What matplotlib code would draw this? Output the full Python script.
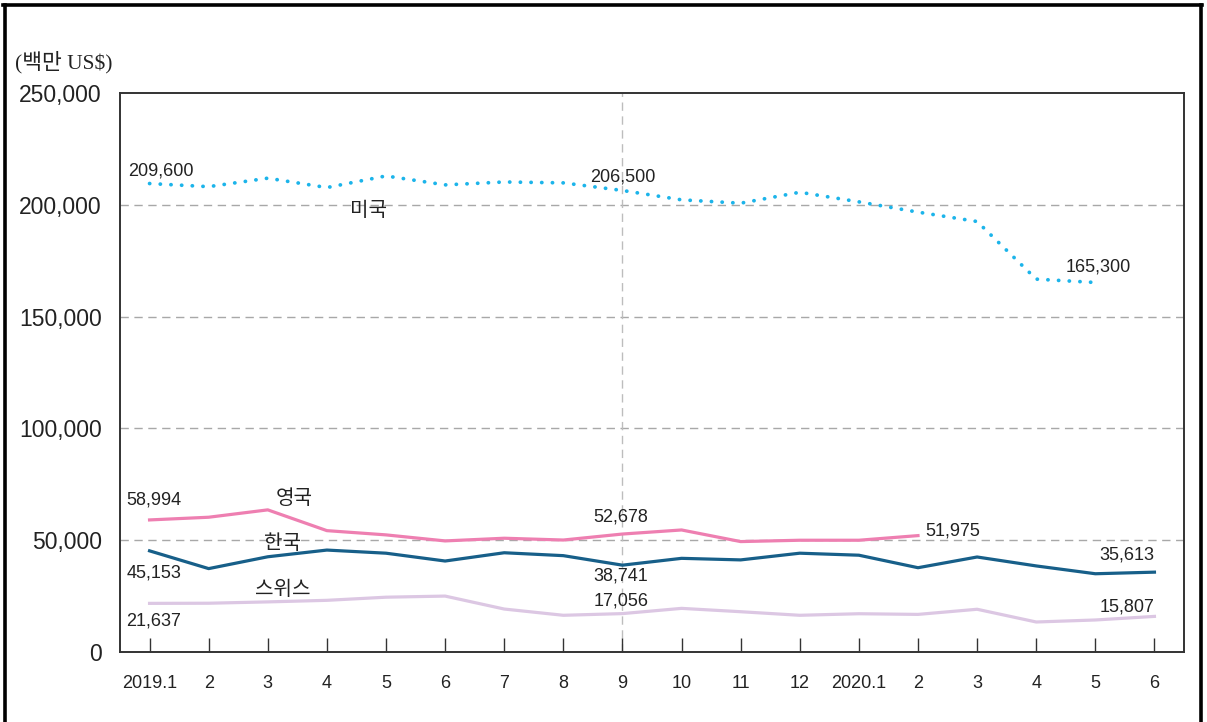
import matplotlib
matplotlib.use("Agg")
import matplotlib.pyplot as plt
from matplotlib.lines import Line2D
from matplotlib import font_manager

# monthly values, million US$
months = ["2019.1", "2", "3", "4", "5", "6", "7", "8", "9", "10", "11", "12",
          "2020.1", "2", "3", "4", "5", "6"]
usa = [209600, 208200, 212000, 207800, 213000, 209000, 210300, 209900, 206500,
       202300, 200800, 205700, 201400, 196800, 192600, 166800, 165300]
uk = [58994, 60200, 63500, 54200, 52300, 49600, 50800, 50000, 52678,
      54500, 49300, 49900, 49900, 51975]
korea = [45153, 37200, 42500, 45500, 44100, 40600, 44300, 43000, 38741,
         41800, 41100, 44100, 43200, 37600, 42400, 38400, 34900, 35613]
swiss = [21637, 21700, 22300, 23000, 24400, 24900, 19100, 16300, 17056,
         19400, 17900, 16300, 17000, 16700, 19000, 13300, 14200, 15807]
yticks = [0, 50000, 100000, 150000, 200000, 250000]

NUM_FONT = "Liberation Sans"
KR_FONT = ["Noto Sans CJK KR", "DejaVu Sans"]
names = {f.name for f in font_manager.fontManager.ttflist}
NARROW = "Liberation Sans Narrow" if "Liberation Sans Narrow" in names else NUM_FONT

C_US = "#1cb4ea"
C_UK = "#ee7fb1"
C_KR = "#175f89"
C_CH = "#dcc7e3"
TXT = "#222222"

W, H = 1207, 722
fig = plt.figure(figsize=(W / 100, H / 100), dpi=100)
ax = fig.add_axes([120 / W, (H - 651.7) / H, (1184 - 120) / W, (651.7 - 93.3) / H])

x = list(range(len(months)))
ax.plot(x[:len(swiss)], swiss, color=C_CH, lw=2.3, zorder=3)
ax.plot(x[:len(korea)], korea, color=C_KR, lw=2.3, zorder=4)
ax.plot(x[:len(uk)], uk, color=C_UK, lw=2.3, zorder=4)
ax.plot(x[:len(usa)], usa, color=C_US, lw=2.7, linestyle=(0, (0.05, 2.8)),
        dash_capstyle="round", zorder=4)

ax.set_xlim(-0.5, len(months) - 0.5)
ax.set_ylim(0, 250000)

for v in yticks[1:-1]:
    ax.axhline(v, color="#a8a8a8", lw=1.0, dashes=(6, 4), zorder=1)
ax.axvline(8, color="#bdbdbd", lw=1.0, dashes=(6, 4), zorder=1)

ax.set_yticks(yticks)
ax.set_yticklabels([f"{v:,}" for v in yticks], fontfamily=NUM_FONT,
                   fontsize=16.5, color=TXT)
ax.tick_params(axis="y", length=0, pad=13)
ax.set_xticks(x)
ax.set_xticklabels(months, fontfamily=NARROW, fontsize=13, color=TXT)
ax.tick_params(axis="x", direction="in", length=10, width=1.0, color="#333333", pad=17)
for s in ax.spines.values():
    s.set_color("#333333")
    s.set_linewidth(1.4)

# value labels
lab = dict(fontfamily=NUM_FONT, fontsize=13, color=TXT, ha="center", va="center")
ax.annotate(f"{usa[0]:,}", (0, usa[0]), xytext=(8, 9), textcoords="offset points", **lab)
ax.annotate(f"{usa[8]:,}", (8, usa[8]), xytext=(0, 10), textcoords="offset points", **lab)
ax.annotate(f"{usa[16]:,}", (16, usa[16]), xytext=(2, 11), textcoords="offset points", **lab)
ax.annotate(f"{uk[0]:,}", (0, uk[0]), xytext=(3, 14), textcoords="offset points", **lab)
ax.annotate(f"{uk[8]:,}", (8, uk[8]), xytext=(-1, 12), textcoords="offset points", **lab)
ax.annotate(f"{uk[13]:,}", (13, uk[13]), xytext=(25, 3), textcoords="offset points", **lab)
ax.annotate(f"{korea[0]:,}", (0, korea[0]), xytext=(3, -16), textcoords="offset points", **lab)
ax.annotate(f"{korea[8]:,}", (8, korea[8]), xytext=(-1, -8), textcoords="offset points", **lab)
ax.annotate(f"{korea[17]:,}", (17, korea[17]), xytext=(-20, 12), textcoords="offset points", **lab)
ax.annotate(f"{swiss[0]:,}", (0, swiss[0]), xytext=(3, -13), textcoords="offset points", **lab)
ax.annotate(f"{swiss[8]:,}", (8, swiss[8]), xytext=(-1, 9), textcoords="offset points", **lab)
ax.annotate(f"{swiss[17]:,}", (17, swiss[17]), xytext=(-20, 7), textcoords="offset points", **lab)

# series names
kr = dict(fontfamily=KR_FONT, fontsize=14.5, color=TXT, ha="center", va="center")
ax.text(3.7, 197500, "미국", **kr)
ax.text(2.45, 68500, "영국", **kr)
ax.text(2.25, 48500, "한국", **kr)
ax.text(2.25, 28000, "스위스", **kr)

fig.text(15 / W, (H - 62) / H, "(백만 US$)", fontfamily=["Liberation Serif", "Noto Sans CJK KR"],
         fontsize=15.5, color=TXT, ha="left", va="center")

# outer frame, open at the bottom
for xs, ys in [((3 / W, 1202 / W), (1 - 5 / H, 1 - 5 / H)),
               ((5 / W, 5 / W), (1 - 5 / H, 0)),
               ((1201 / W, 1201 / W), (1 - 5 / H, 0))]:
    fig.add_artist(Line2D(xs, ys, color="black", lw=2.6, transform=fig.transFigure))

fig.savefig("out.png", dpi=100)
